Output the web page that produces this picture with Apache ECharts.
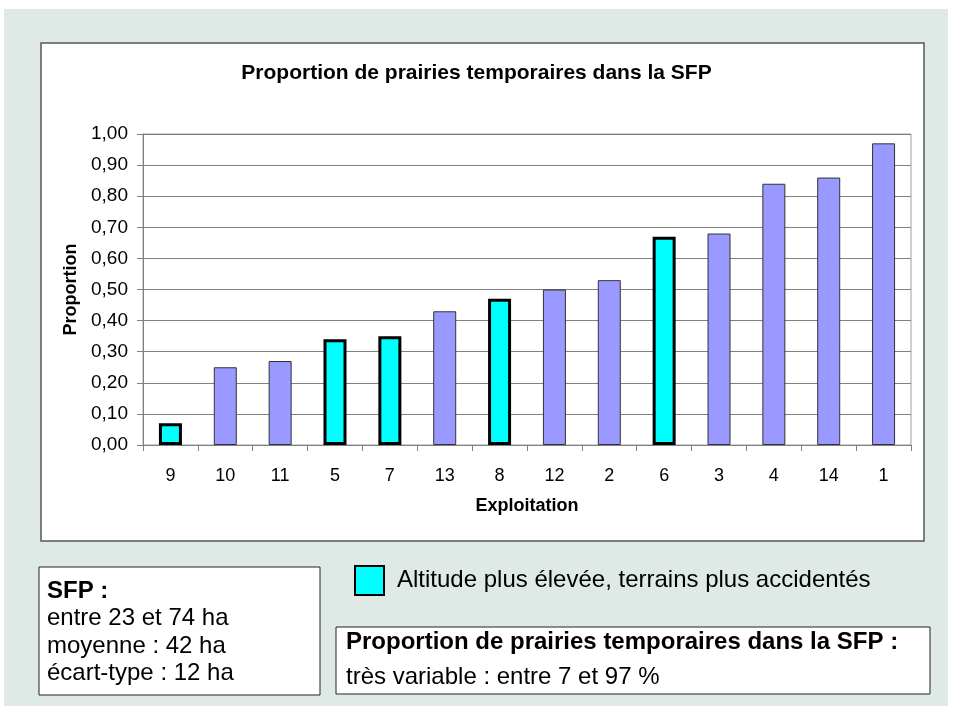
<!DOCTYPE html>
<html>
<head>
<meta charset="utf-8">
<script src="https://cdn.jsdelivr.net/npm/echarts@6/dist/echarts.min.js"></script>
<style>
  html, body { margin: 0; padding: 0; background: #fff; }
  #chart { width: 953px; height: 713px; }
</style>
</head>
<body>
<div id="chart"></div>
<script>
// exploitations, sorted by proportion
const categories = ['9', '10', '11', '5', '7', '13', '8', '12', '2', '6', '3', '4', '14', '1'];
const proportions = [0.07, 0.25, 0.27, 0.34, 0.35, 0.43, 0.47, 0.50, 0.53, 0.67, 0.68, 0.84, 0.86, 0.97];
// farms at higher altitude (highlighted cyan)
const highAltitude = ['9', '5', '7', '8', '6'];
const yTicks = { min: 0, max: 1, interval: 0.1 };

const FONT = 'Arial, "Liberation Sans", sans-serif';

const highData = categories.map((c, i) => highAltitude.includes(c) ? proportions[i] : '-');
const otherData = categories.map((c, i) => highAltitude.includes(c) ? '-' : proportions[i]);

const chart = echarts.init(document.getElementById('chart'));
chart.setOption({
    animation: false,
    backgroundColor: '#fff',
    textStyle: { fontFamily: FONT },
    title: {
        text: 'Proportion de prairies temporaires dans la SFP',
        left: 'center',
        top: 58,
        textStyle: { fontSize: 21, fontWeight: 'bold', color: '#000', fontFamily: FONT }
    },
    legend: {
        data: ['Altitude plus élevée, terrains plus accidentés'],
        left: 349,
        top: 560,
        icon: 'rect',
        itemWidth: 29,
        itemHeight: 29,
        itemGap: 10,
        textStyle: { fontSize: 24, color: '#000', fontFamily: FONT, padding: [0, 0, 0, 8] },
        selectedMode: false
    },
    grid: {
        show: true,
        left: 143,
        right: 953 - 911,
        top: 134,
        bottom: 713 - 445,
        borderColor: '#a0a0a0',
        borderWidth: 1,
        backgroundColor: 'transparent'
    },
    xAxis: {
        type: 'category',
        data: categories,
        name: 'Exploitation',
        nameLocation: 'middle',
        nameGap: 52,
        nameTextStyle: { fontSize: 18, fontWeight: 'bold', color: '#000' },
        axisLine: { lineStyle: { color: '#808080' } },
        axisTick: { show: true, length: 6, lineStyle: { color: '#808080' } },
        axisLabel: { fontSize: 18, color: '#000', margin: 22 }
    },
    yAxis: {
        type: 'value',
        min: yTicks.min,
        max: yTicks.max,
        interval: yTicks.interval,
        name: 'Proportion',
        nameLocation: 'middle',
        nameGap: 63,
        nameTextStyle: { fontSize: 18, fontWeight: 'bold', color: '#000' },
        axisLine: { show: true, lineStyle: { color: '#808080' } },
        axisTick: { show: true, length: 6, lineStyle: { color: '#808080' } },
        splitLine: { lineStyle: { color: '#808080', width: 1 } },
        axisLabel: {
            fontSize: 19,
            color: '#000',
            margin: 15,
            formatter: v => v.toFixed(2).replace('.', ',')
        }
    },
    series: [
        {
            name: 'Autres',
            type: 'bar',
            data: otherData,
            barWidth: 23,
            barGap: '-100%',
            itemStyle: { color: '#9999ff', borderColor: '#333', borderWidth: 1 }
        },
        {
            name: 'Altitude plus élevée, terrains plus accidentés',
            type: 'bar',
            data: highData,
            barWidth: 23,
            itemStyle: { color: '#00ffff', borderColor: '#000', borderWidth: 3 }
        }
    ],
    graphic: [
        // light background panel
        { type: 'rect', z: -20, shape: { x: 4, y: 9, width: 944, height: 697 },
          style: { fill: '#dfeae7' } },
        // chart frame
        { type: 'rect', z: -10, shape: { x: 41, y: 43, width: 883, height: 498 },
          style: { fill: '#fff', stroke: '#555', lineWidth: 1.5 } },
        // SFP box
        { type: 'rect', z: -10, shape: { x: 39, y: 567, width: 281, height: 128 },
          style: { fill: '#fff', stroke: '#222', lineWidth: 1 } },
        { type: 'text', left: 47, top: 579,
          style: { text: 'SFP :', font: 'bold 24px ' + FONT, fill: '#000' } },
        { type: 'text', left: 47, top: 605,
          style: { text: 'entre 23 et 74 ha\nmoyenne : 42 ha\nécart-type : 12 ha',
                   font: '24px ' + FONT, fill: '#000', lineHeight: 27.5 } },
        // summary box
        { type: 'rect', z: -10, shape: { x: 336, y: 627, width: 594, height: 67 },
          style: { fill: '#fff', stroke: '#222', lineWidth: 1 } },
        { type: 'text', left: 346, top: 630,
          style: { text: 'Proportion de prairies temporaires dans la SFP :', font: 'bold 24px ' + FONT, fill: '#000' } },
        { type: 'text', left: 346, top: 665,
          style: { text: 'très variable : entre 7 et 97 %', font: '24px ' + FONT, fill: '#000' } }
    ]
});
</script>
</body>
</html>
